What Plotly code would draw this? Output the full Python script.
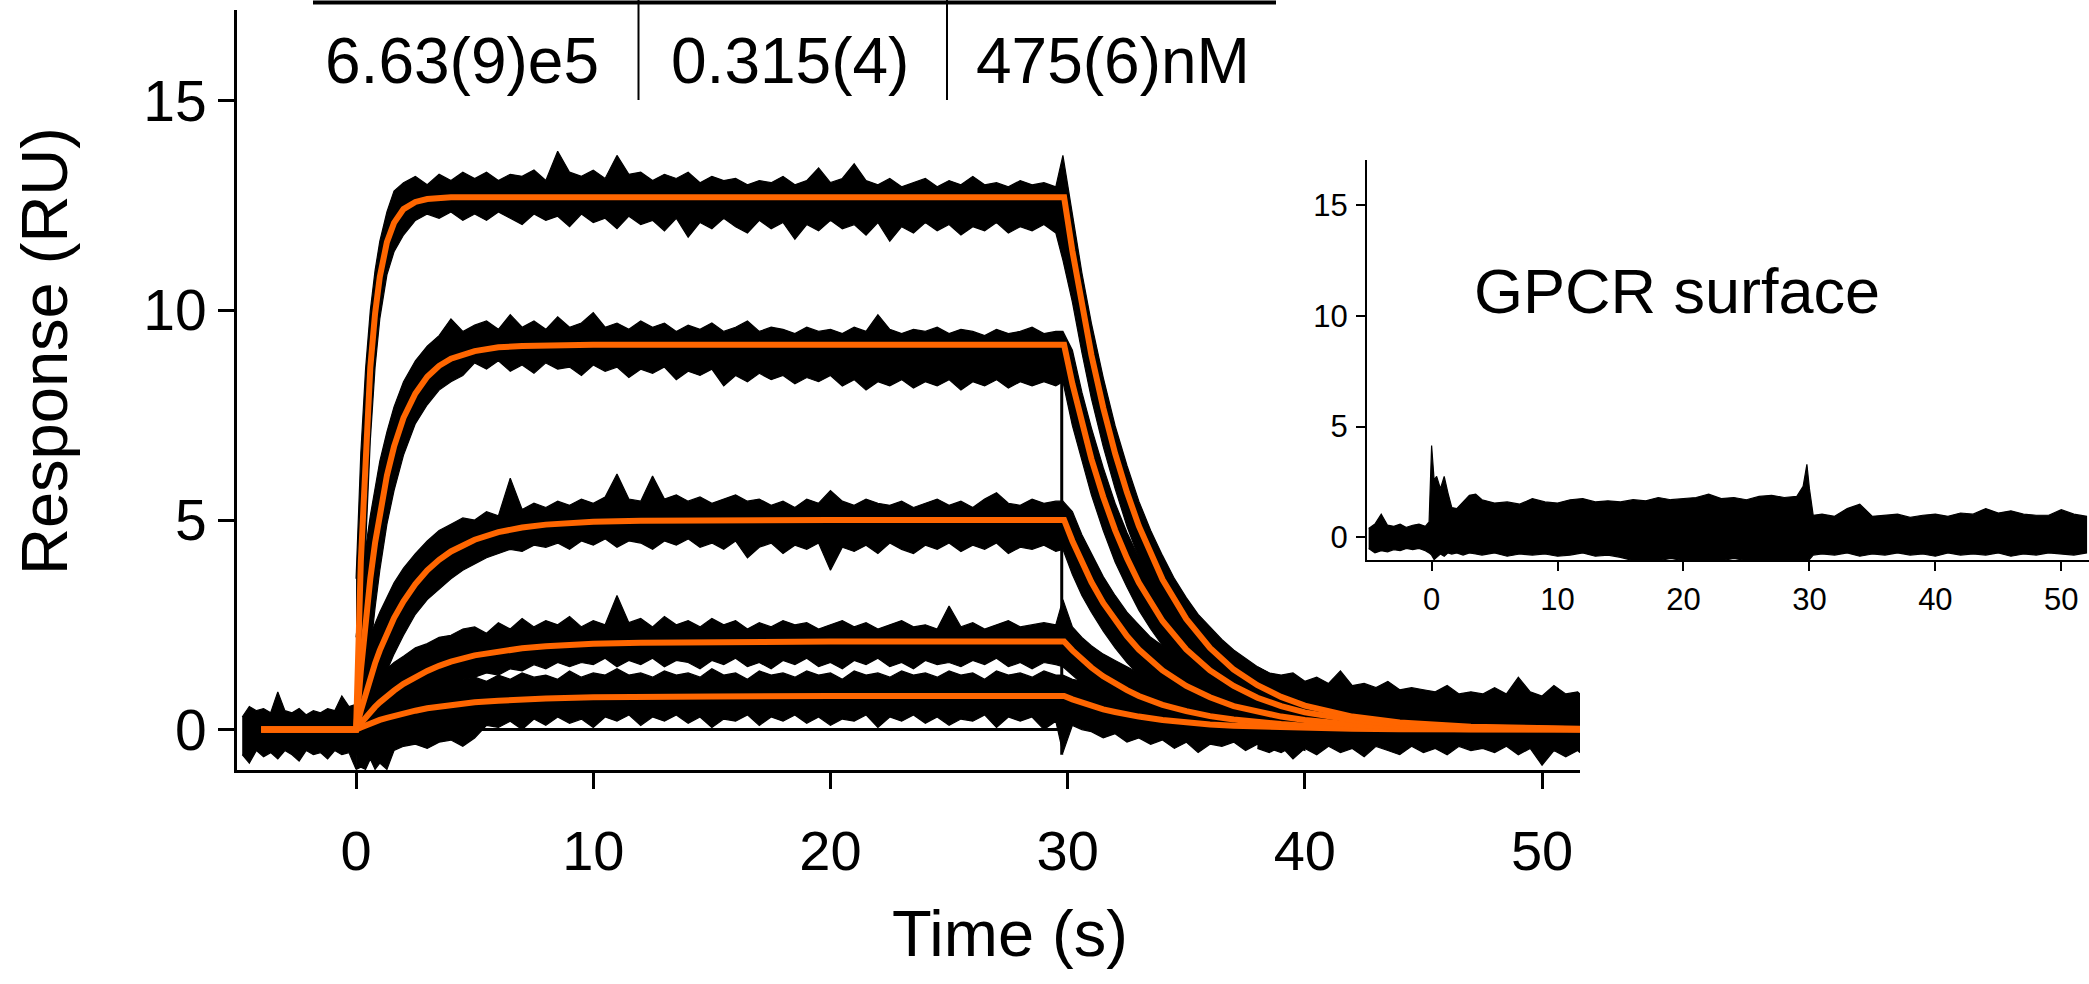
import plotly.graph_objects as go

W, H = 2089, 984

# ---------------- data ----------------
# fitted 1:1 model curves (orange)
T_FIT = [-4.0, 0.0, 0.2, 0.4, 0.6, 0.8, 1.0, 1.3, 1.6, 2.0, 2.5, 3.0, 3.5, 4.0,
         5.0, 6.0, 7.0, 8.0, 10.0, 12.0, 15.0, 20.0, 25.0,
         29.85, 30.2, 30.6, 31.0, 31.5, 32.0, 32.5, 33.0,
         34.0, 35.0, 36.0, 37.0, 38.0, 39.0, 40.0, 42.0, 44.0, 47.0, 51.6]
FIT_1 = [0, 0, 4.01, 6.76, 8.64, 9.92, 10.80, 11.63, 12.09, 12.42, 12.59, 12.66, 12.69, 12.70,
         12.70, 12.70, 12.70, 12.70, 12.70, 12.70, 12.70, 12.70, 12.70,
         12.70, 11.42, 10.10, 8.94, 7.68, 6.59, 5.66, 4.86,
         3.58, 2.64, 1.95, 1.43, 1.06, 0.78, 0.57, 0.31, 0.17, 0.07, 0.02]
FIT_2 = [0, 0, 1.40, 2.60, 3.60, 4.45, 5.18, 6.06, 6.75, 7.44, 8.02, 8.42, 8.68, 8.85,
         9.03, 9.12, 9.15, 9.17, 9.18, 9.18, 9.18, 9.18, 9.18,
         9.18, 8.25, 7.30, 6.46, 5.55, 4.76, 4.09, 3.51,
         2.59, 1.91, 1.41, 1.04, 0.76, 0.56, 0.41, 0.23, 0.12, 0.05, 0.01]
FIT_3 = [0, 0, 0.45, 0.87, 1.24, 1.58, 1.89, 2.30, 2.66, 3.06, 3.47, 3.80, 4.05, 4.25,
         4.53, 4.71, 4.82, 4.89, 4.96, 4.98, 5.0, 5.0, 5.0,
         5.0, 4.50, 3.98, 3.52, 3.02, 2.60, 2.23, 1.91,
         1.41, 1.04, 0.77, 0.56, 0.42, 0.31, 0.23, 0.12, 0.07, 0.03, 0.01]
FIT_4 = [0, 0, 0.15, 0.29, 0.42, 0.54, 0.65, 0.80, 0.93, 1.09, 1.26, 1.40, 1.52, 1.62,
         1.77, 1.87, 1.94, 1.99, 2.05, 2.07, 2.09, 2.10, 2.10,
         2.10, 1.89, 1.67, 1.48, 1.27, 1.09, 0.94, 0.80,
         0.59, 0.44, 0.32, 0.24, 0.17, 0.13, 0.09, 0.05, 0.03, 0.01, 0.0]
FIT_5 = [0, 0, 0.05, 0.10, 0.14, 0.19, 0.23, 0.28, 0.33, 0.39, 0.45, 0.51, 0.55, 0.59,
         0.65, 0.69, 0.72, 0.74, 0.77, 0.79, 0.79, 0.80, 0.80,
         0.80, 0.72, 0.64, 0.56, 0.48, 0.42, 0.36, 0.31,
         0.23, 0.17, 0.12, 0.09, 0.07, 0.05, 0.04, 0.02, 0.01, 0.0, 0.0]

# measured sensorgrams (black), given as upper / lower envelope of the noisy replicates
T_BAND = [0.0, 0.2, 0.4, 0.6, 0.8, 1.0, 1.3, 1.6, 2.0, 2.5, 3.0, 3.5, 4.0, 4.5,
          5.0, 5.5, 6.0, 6.5, 7.0, 7.5, 8.0, 8.5, 9.0, 9.5,
          10.0, 10.5, 11.0, 11.5, 12.0, 12.5, 13.0, 13.5, 14.0, 14.5,
          15.0, 15.5, 16.0, 16.5, 17.0, 17.5, 18.0, 18.5, 19.0, 19.5,
          20.0, 20.5, 21.0, 21.5, 22.0, 22.5, 23.0, 23.5, 24.0, 24.5,
          25.0, 25.5, 26.0, 26.5, 27.0, 27.5, 28.0, 28.5, 29.0, 29.5,
          29.8, 30.2, 30.6, 31.0, 31.5, 32.0, 32.5, 33.0, 33.5, 34.0, 34.5,
          35.0, 35.5, 36.0, 36.5, 37.0, 37.5, 38.0, 38.5, 39.0, 39.5, 40.0]

BAND_1_UP = [3.6, 6.6, 8.6, 10.0, 10.95, 11.65, 12.35, 12.85, 13.05, 13.2, 13.0, 13.25, 13.1, 13.3,
             13.15, 13.3, 13.1, 13.25, 13.2, 13.35, 13.1, 13.8, 13.3, 13.2,
             13.35, 13.15, 13.7, 13.25, 13.3, 13.1, 13.25, 13.15, 13.3, 13.05,
             13.2, 13.1, 13.15, 13.0, 13.1, 13.05, 13.2, 13.0, 13.1, 13.4,
             13.05, 13.15, 13.5, 13.1, 13.0, 13.15, 12.95, 13.05, 13.15, 12.95,
             13.1, 13.0, 13.2, 13.0, 13.05, 12.95, 13.1, 13.0, 13.05, 12.95,
             13.7, 12.3, 10.9, 9.7, 8.4, 7.25, 6.3, 5.45, 4.75, 4.15, 3.6,
             3.15, 2.75, 2.45, 2.15, 1.9, 1.7, 1.5, 1.35, 1.2, 1.1, 1.0]
BAND_1_LO = [-0.6, 0.6, 4.35, 6.9, 8.64, 9.8, 10.85, 11.4, 11.8, 12.15, 12.3, 12.2, 12.35, 12.15,
             12.3, 12.15, 12.35, 12.2, 12.05, 12.3, 12.15, 12.25, 12.0, 12.3,
             12.1, 12.2, 11.95, 12.25, 12.05, 12.15, 11.9, 12.2, 11.75, 12.1,
             11.95, 12.2, 12.0, 11.85, 12.15, 11.95, 12.1, 11.7, 12.05, 11.9,
             12.15, 11.95, 12.05, 11.8, 12.1, 11.65, 12.0, 11.85, 12.1, 11.9,
             12.05, 11.8, 12.0, 11.9, 12.1, 11.85, 12.0, 11.9, 12.05, 11.85,
             11.2, 10.2, 9.0, 7.9, 6.75, 5.75, 4.85, 4.1, 3.5, 2.95, 2.45,
             2.05, 1.7, 1.4, 1.15, 0.95, 0.75, 0.6, 0.45, 0.35, 0.25, 0.15]

BAND_2_UP = [2.2, 3.3, 4.3, 5.1, 5.8, 6.4, 7.1, 7.7, 8.3, 8.8, 9.15, 9.4, 9.8, 9.5,
             9.65, 9.75, 9.55, 9.9, 9.6, 9.75, 9.55, 9.85, 9.6, 9.7,
             9.95, 9.6, 9.7, 9.55, 9.75, 9.6, 9.7, 9.5, 9.65, 9.55,
             9.7, 9.5, 9.6, 9.75, 9.5, 9.6, 9.55, 9.45, 9.6, 9.5,
             9.55, 9.45, 9.6, 9.5, 9.9, 9.55, 9.45, 9.55, 9.5, 9.6,
             9.45, 9.55, 9.5, 9.4, 9.55, 9.45, 9.5, 9.6, 9.45, 9.5,
             9.5, 9.05, 8.05, 7.2, 6.25, 5.4, 4.7, 4.1, 3.55, 3.1, 2.75,
             2.4, 2.1, 1.9, 1.65, 1.5, 1.35, 1.2, 1.1, 1.0, 0.9, 0.85]
BAND_2_LO = [-0.5, -0.4, 0.6, 1.85, 2.9, 3.8, 4.9, 5.7, 6.55, 7.3, 7.75, 8.1, 8.3, 8.45,
             8.75, 8.6, 8.8, 8.55, 8.7, 8.5, 8.75, 8.6, 8.65, 8.45,
             8.7, 8.55, 8.65, 8.4, 8.6, 8.5, 8.65, 8.35, 8.55, 8.45,
             8.6, 8.2, 8.45, 8.3, 8.5, 8.35, 8.45, 8.25, 8.4, 8.3,
             8.45, 8.2, 8.35, 8.1, 8.3, 8.2, 8.35, 8.15, 8.3, 8.2,
             8.35, 8.1, 8.3, 8.2, 8.35, 8.15, 8.3, 8.2, 8.3, 8.2,
             8.3, 7.25, 6.4, 5.6, 4.75, 4.0, 3.4, 2.85, 2.4, 2.0, 1.65,
             1.35, 1.15, 0.9, 0.75, 0.55, 0.45, 0.3, 0.2, 0.12, 0.05, 0.0]

BAND_3_UP = [1.15, 1.55, 1.9, 2.25, 2.55, 2.8, 3.15, 3.5, 3.85, 4.2, 4.5, 4.75, 4.9, 5.05,
             5.0, 5.2, 5.1, 6.0, 5.25, 5.4, 5.3, 5.45, 5.35, 5.5,
             5.4, 5.55, 6.1, 5.5, 5.45, 6.05, 5.5, 5.6, 5.45, 5.55,
             5.4, 5.5, 5.6, 5.45, 5.5, 5.35, 5.45, 5.3, 5.5, 5.4,
             5.7, 5.45, 5.35, 5.5, 5.4, 5.35, 5.45, 5.3, 5.4, 5.5,
             5.35, 5.45, 5.3, 5.5, 5.65, 5.4, 5.35, 5.5, 5.4, 5.45,
             5.45, 5.2, 4.65, 4.2, 3.65, 3.2, 2.8, 2.5, 2.2, 2.0, 1.75,
             1.6, 1.4, 1.3, 1.15, 1.05, 1.0, 0.9, 0.85, 0.8, 0.75, 0.7]
BAND_3_LO = [-0.6, -0.5, -0.25, 0.15, 0.55, 0.9, 1.4, 1.8, 2.25, 2.75, 3.1, 3.35, 3.6, 3.8,
             3.95, 4.1, 4.2, 4.3, 4.25, 4.4, 4.35, 4.45, 4.3, 4.5,
             4.4, 4.55, 4.35, 4.5, 4.45, 4.3, 4.5, 4.4, 4.55, 4.35,
             4.45, 4.3, 4.5, 4.1, 4.35, 4.45, 4.2, 4.4, 4.3, 4.45,
             3.8, 4.35, 4.25, 4.4, 4.2, 4.45, 4.3, 4.2, 4.4, 4.3,
             4.45, 4.25, 4.4, 4.3, 4.45, 4.2, 4.35, 4.3, 4.4, 4.25,
             4.3, 3.7, 3.2, 2.8, 2.35, 1.95, 1.6, 1.3, 1.05, 0.85, 0.65,
             0.5, 0.35, 0.25, 0.15, 0.05, 0.0, -0.05, -0.1, -0.15, -0.2, -0.2]

BAND_4_UP = [0.6, 0.8, 1.0, 1.05, 1.2, 1.3, 1.45, 1.6, 1.75, 1.95, 2.05, 2.2, 2.25, 2.4,
             2.45, 2.3, 2.55, 2.4, 2.65, 2.45, 2.6, 2.5, 2.7, 2.45,
             2.6, 2.5, 3.2, 2.55, 2.65, 2.45, 2.7, 2.5, 2.6, 2.45,
             2.65, 2.5, 2.6, 2.4, 2.55, 2.45, 2.6, 2.5, 2.55, 2.4,
             2.5, 2.6, 2.45, 2.55, 2.4, 2.5, 2.6, 2.45, 2.5, 2.4,
             2.95, 2.45, 2.55, 2.4, 2.5, 2.6, 2.45, 2.5, 2.55, 2.5,
             3.1, 2.45, 2.2, 2.0, 1.8, 1.65, 1.5, 1.35, 1.25, 1.15, 1.05,
             1.0, 0.9, 0.85, 0.8, 0.75, 0.7, 0.7, 0.65, 0.65, 0.6, 0.6]
BAND_4_LO = [-0.5, -0.3, -0.1, 0.0, 0.1, 0.2, 0.3, 0.45, 0.55, 0.75, 0.9, 1.0, 1.1, 1.2,
             1.25, 1.35, 1.3, 1.45, 1.4, 1.55, 1.45, 1.6, 1.5, 1.6,
             1.55, 1.7, 1.5, 1.65, 1.55, 1.7, 1.5, 1.65, 1.6, 1.45,
             1.65, 1.55, 1.7, 1.5, 1.6, 1.45, 1.65, 1.55, 1.7, 1.5,
             1.6, 1.45, 1.65, 1.55, 1.7, 1.5, 1.6, 1.45, 1.65, 1.55,
             1.6, 1.5, 1.65, 1.55, 1.7, 1.5, 1.6, 1.45, 1.6, 1.55,
             1.5, 1.3, 1.1, 0.9, 0.7, 0.55, 0.4, 0.25, 0.15, 0.05, -0.05,
             -0.1, -0.15, -0.2, -0.2, -0.25, -0.25, -0.3, -0.3, -0.3, -0.35, -0.35]

BAND_5_UP = [0.5, 0.6, 0.7, 0.65, 0.75, 0.8, 0.85, 0.95, 1.0, 1.05, 1.15, 1.1, 1.2, 1.2,
             1.25, 1.15, 1.3, 1.2, 1.35, 1.25, 1.3, 1.2, 1.4, 1.25,
             1.35, 1.3, 1.45, 1.3, 1.35, 1.25, 1.4, 1.3, 1.35, 1.25,
             1.45, 1.3, 1.35, 1.2, 1.4, 1.3, 1.35, 1.25, 1.4, 1.3,
             1.35, 1.2, 1.4, 1.3, 1.35, 1.25, 1.4, 1.3, 1.35, 1.25,
             1.4, 1.3, 1.35, 1.2, 1.4, 1.3, 1.35, 1.25, 1.4, 1.3,
             1.3, 1.2, 1.15, 1.05, 1.0, 0.9, 0.85, 0.8, 0.75, 0.7, 0.7,
             0.65, 0.6, 0.6, 0.6, 0.55, 0.55, 0.5, 0.55, 0.5, 0.5, 0.45]
BAND_5_LO = [-0.95, -0.9, -0.95, -0.7, -0.95, -0.8, -0.95, -0.5, -0.4, -0.35, -0.45, -0.3, -0.25, -0.4,
             -0.2, 0.1, 0.05, 0.2, 0.0, 0.25, 0.1, 0.3, 0.15, 0.25,
             0.05, 0.3, 0.2, 0.35, 0.1, 0.3, 0.2, 0.35, 0.15, 0.3,
             0.05, 0.25, 0.2, 0.35, 0.1, 0.3, 0.2, 0.35, 0.15, 0.3,
             0.1, 0.25, 0.2, 0.35, 0.05, 0.3, 0.2, 0.35, 0.15, 0.3,
             0.1, 0.25, 0.2, 0.35, 0.05, 0.3, 0.2, 0.3, 0.0, 0.2,
             -0.55, 0.1, 0.0, -0.05, -0.2, -0.1, -0.3, -0.2, -0.35, -0.25, -0.45,
             -0.3, -0.55, -0.35, -0.4, -0.3, -0.5, -0.35, -0.45, -0.55, -0.4, -0.5]

# pre-injection baseline and late dissociation tail (all replicates together)
BASE_T = [-4.8, -4.5, -4.2, -3.9, -3.6, -3.3, -3.0, -2.7, -2.4, -2.1, -1.8, -1.5, -1.2, -0.9, -0.6, -0.3, 0.0]
BASE_UP = [0.3, 0.55, 0.45, 0.5, 0.4, 0.9, 0.45, 0.4, 0.5, 0.35, 0.45, 0.4, 0.5, 0.45, 0.8, 0.55, 0.6]
BASE_LO = [-0.6, -0.8, -0.5, -0.65, -0.55, -0.7, -0.5, -0.6, -0.75, -0.5, -0.6, -0.55, -0.7, -0.5, -0.6, -0.55, -0.95]

TAIL_T = [38.0, 38.5, 39.0, 39.5, 40.0, 40.5, 41.0, 41.5, 42.0, 42.5, 43.0, 43.5, 44.0, 44.5,
          45.0, 45.5, 46.0, 46.5, 47.0, 47.5, 48.0, 48.5, 49.0, 49.5, 50.0, 50.5, 51.0, 51.5, 51.6]
TAIL_UP = [1.5, 1.35, 1.3, 1.35, 1.15, 1.25, 1.1, 1.4, 1.05, 1.1, 1.0, 1.15, 0.95, 1.0,
           0.95, 0.9, 1.05, 0.85, 0.9, 0.85, 1.0, 0.85, 1.25, 0.9, 0.8, 1.05, 0.85, 0.9, 0.85]
TAIL_LO = [-0.45, -0.55, -0.4, -0.7, -0.45, -0.6, -0.4, -0.55, -0.45, -0.65, -0.4, -0.5, -0.6, -0.4,
           -0.55, -0.45, -0.6, -0.4, -0.5, -0.45, -0.55, -0.4, -0.6, -0.45, -0.85, -0.5, -0.65, -0.5, -0.55]

# zero-concentration trace and the injection-switch artefact
ZERO_T = [0.0, 29.8]
ZERO_V = [0.0, 0.0]
SPIKE_T = [29.75, 29.75]
SPIKE_V = [8.8, -0.6]

# inset: reference (GPCR) surface
INSET_T = [-5.0, -4.5, -4.0, -3.5, -3.0, -2.5, -2.0, -1.5, -1.0, -0.5,
           -0.2, 0.0, 0.2, 0.4, 0.7, 1.0, 1.3, 1.6, 2.0, 2.5,
           3.0, 3.5, 4.0, 5.0, 6.0, 7.0, 8.0, 9.0, 10.0, 11.0,
           12.0, 13.0, 14.0, 15.0, 16.0, 17.0, 18.0, 19.0, 20.0, 21.0,
           22.0, 23.0, 24.0, 25.0, 26.0, 27.0, 28.0, 29.0, 29.5, 29.8,
           30.0, 30.3, 31.0, 32.0, 33.0, 34.0, 35.0, 36.0, 37.0, 38.0,
           39.0, 40.0, 41.0, 42.0, 43.0, 44.0, 45.0, 46.0, 47.0, 48.0,
           49.0, 50.0, 51.0, 52.0]
INSET_UP = [0.4, 0.6, 1.05, 0.55, 0.5, 0.6, 0.45, 0.55, 0.6, 0.5,
            0.7, 4.15, 2.6, 2.75, 2.2, 2.75, 2.0, 1.35, 1.3, 1.6,
            1.9, 1.95, 1.7, 1.55, 1.6, 1.5, 1.75, 1.6, 1.55, 1.7,
            1.75, 1.6, 1.65, 1.6, 1.7, 1.65, 1.8, 1.7, 1.75, 1.8,
            1.95, 1.75, 1.8, 1.7, 1.85, 1.9, 1.8, 1.85, 2.3, 3.3,
            2.2, 1.0, 1.05, 0.95, 1.3, 1.5, 0.95, 1.0, 1.05, 0.9,
            1.0, 1.05, 0.95, 1.1, 1.05, 1.3, 1.1, 1.2, 1.05, 1.0,
            1.0, 1.25, 1.05, 0.95]
INSET_LO = [-0.5, -0.7, -0.6, -0.65, -0.55, -0.6, -0.5, -0.55, -0.5, -0.6,
            -0.7, -0.8, -1.0, -0.9, -0.75, -0.85, -0.7, -0.75, -0.7, -0.8,
            -0.7, -0.75, -0.8, -0.7, -0.85, -0.75, -0.8, -0.75, -0.85, -0.8,
            -0.7, -0.85, -0.8, -0.9, -1.05, -1.05, -1.05, -0.95, -1.05, -1.05,
            -1.05, -1.05, -0.95, -1.05, -1.05, -1.05, -1.05, -1.05, -1.05, -1.05,
            -1.0, -0.8, -0.75, -0.8, -0.7, -0.85, -0.75, -0.8, -0.7, -0.8,
            -0.75, -0.85, -0.7, -0.8, -0.75, -0.8, -0.7, -0.85, -0.75, -0.8,
            -0.7, -0.75, -0.8, -0.7]

# text
FIT_PARAMS = ["6.63(9)e5", "0.315(4)", "475(6)nM"]
MAIN_XTICKS = [0, 10, 20, 30, 40, 50]
MAIN_YTICKS = [0, 5, 10, 15]
INSET_XTICKS = [0, 10, 20, 30, 40, 50]
INSET_YTICKS = [0, 5, 10, 15]

# ---------------- figure ----------------
FONT = "Liberation Sans, Arial, sans-serif"
ORANGE = "#FF6600"


def px(xp):
    return xp / W


def py(yp):
    return 1 - yp / H


def band(t, up, lo, xa, ya):
    return go.Scatter(x=list(t) + list(t)[::-1], y=list(up) + list(lo)[::-1],
                      fill="toself", fillcolor="black", mode="lines",
                      line=dict(color="black", width=1.2),
                      hoverinfo="skip", showlegend=False, xaxis=xa, yaxis=ya)


fig = go.Figure()

fig.add_trace(band(BASE_T, BASE_UP, BASE_LO, "x", "y"))
for up, lo in [(BAND_5_UP, BAND_5_LO), (BAND_4_UP, BAND_4_LO), (BAND_3_UP, BAND_3_LO),
               (BAND_2_UP, BAND_2_LO), (BAND_1_UP, BAND_1_LO)]:
    fig.add_trace(band(T_BAND, up, lo, "x", "y"))
fig.add_trace(band(TAIL_T, TAIL_UP, TAIL_LO, "x", "y"))
fig.add_trace(go.Scatter(x=ZERO_T, y=ZERO_V, mode="lines", line=dict(color="black", width=3),
                         hoverinfo="skip", showlegend=False))
fig.add_trace(go.Scatter(x=SPIKE_T, y=SPIKE_V, mode="lines", line=dict(color="black", width=3),
                         hoverinfo="skip", showlegend=False))

for f in [FIT_5, FIT_4, FIT_3, FIT_2, FIT_1]:
    fig.add_trace(go.Scatter(x=T_FIT, y=f, mode="lines",
                             line=dict(color=ORANGE, width=6),
                             hoverinfo="skip", showlegend=False))

fig.add_trace(band(INSET_T, INSET_UP, INSET_LO, "x2", "y2"))

axis_common = dict(showgrid=False, zeroline=False, showline=True, linecolor="black",
                   ticks="outside", tickcolor="black", mirror=False)

fig.update_layout(
    width=W, height=H,
    margin=dict(l=0, r=0, t=0, b=0),
    paper_bgcolor="white", plot_bgcolor="rgba(0,0,0,0)",
    font=dict(family=FONT, color="black"),
    showlegend=False,
    xaxis=dict(domain=[px(237), px(1580)], range=[-5.02, 51.6], anchor="y",
               tickvals=MAIN_XTICKS, linewidth=3, tickwidth=3, ticklen=16,
               tickfont=dict(size=56, family=FONT), ticklabelstandoff=14, **axis_common),
    yaxis=dict(domain=[py(770), py(10)], range=[-0.965, 17.17], anchor="x",
               tickvals=MAIN_YTICKS, linewidth=3, tickwidth=3, ticklen=16,
               tickfont=dict(size=57, family=FONT), ticklabelstandoff=0, **axis_common),
    xaxis2=dict(domain=[px(1367), 1.0], range=[-5.13, 52.2], anchor="y2",
                tickvals=INSET_XTICKS, linewidth=2, tickwidth=2, ticklen=9,
                tickfont=dict(size=31, family=FONT), ticklabelstandoff=2, **axis_common),
    yaxis2=dict(domain=[py(560), py(160)], range=[-1.02, 17.03], anchor="x2",
                tickvals=INSET_YTICKS, linewidth=2, tickwidth=2, ticklen=9,
                tickfont=dict(size=31, family=FONT), ticklabelstandoff=2, **axis_common),
)

ann = [
    dict(text="Time (s)", x=px(1010), y=py(933), font=dict(size=65)),
    dict(text="Response (RU)", x=px(44), y=py(351), textangle=-90, font=dict(size=65)),
    dict(text=FIT_PARAMS[0], x=px(462), y=py(61), font=dict(size=64)),
    dict(text=FIT_PARAMS[1], x=px(790), y=py(61), font=dict(size=64)),
    dict(text=FIT_PARAMS[2], x=px(1113), y=py(61), font=dict(size=64)),
    dict(text="GPCR surface", x=px(1677), y=py(291), font=dict(size=63)),
]
for a in ann:
    fig.add_annotation(xref="paper", yref="paper", xanchor="center", yanchor="middle",
                       showarrow=False, **a)

# result table rules
fig.add_shape(type="line", xref="paper", yref="paper", x0=px(313), x1=px(1276),
              y0=py(2.5), y1=py(2.5), line=dict(color="black", width=4))
for xs in [638.5, 947]:
    fig.add_shape(type="line", xref="paper", yref="paper", x0=px(xs), x1=px(xs),
                  y0=py(0), y1=py(100), line=dict(color="black", width=2))

fig.write_html("out.html",
               config={"displayModeBar": False},
               post_script="document.body.style.margin='0px';document.body.style.overflow='hidden';")
